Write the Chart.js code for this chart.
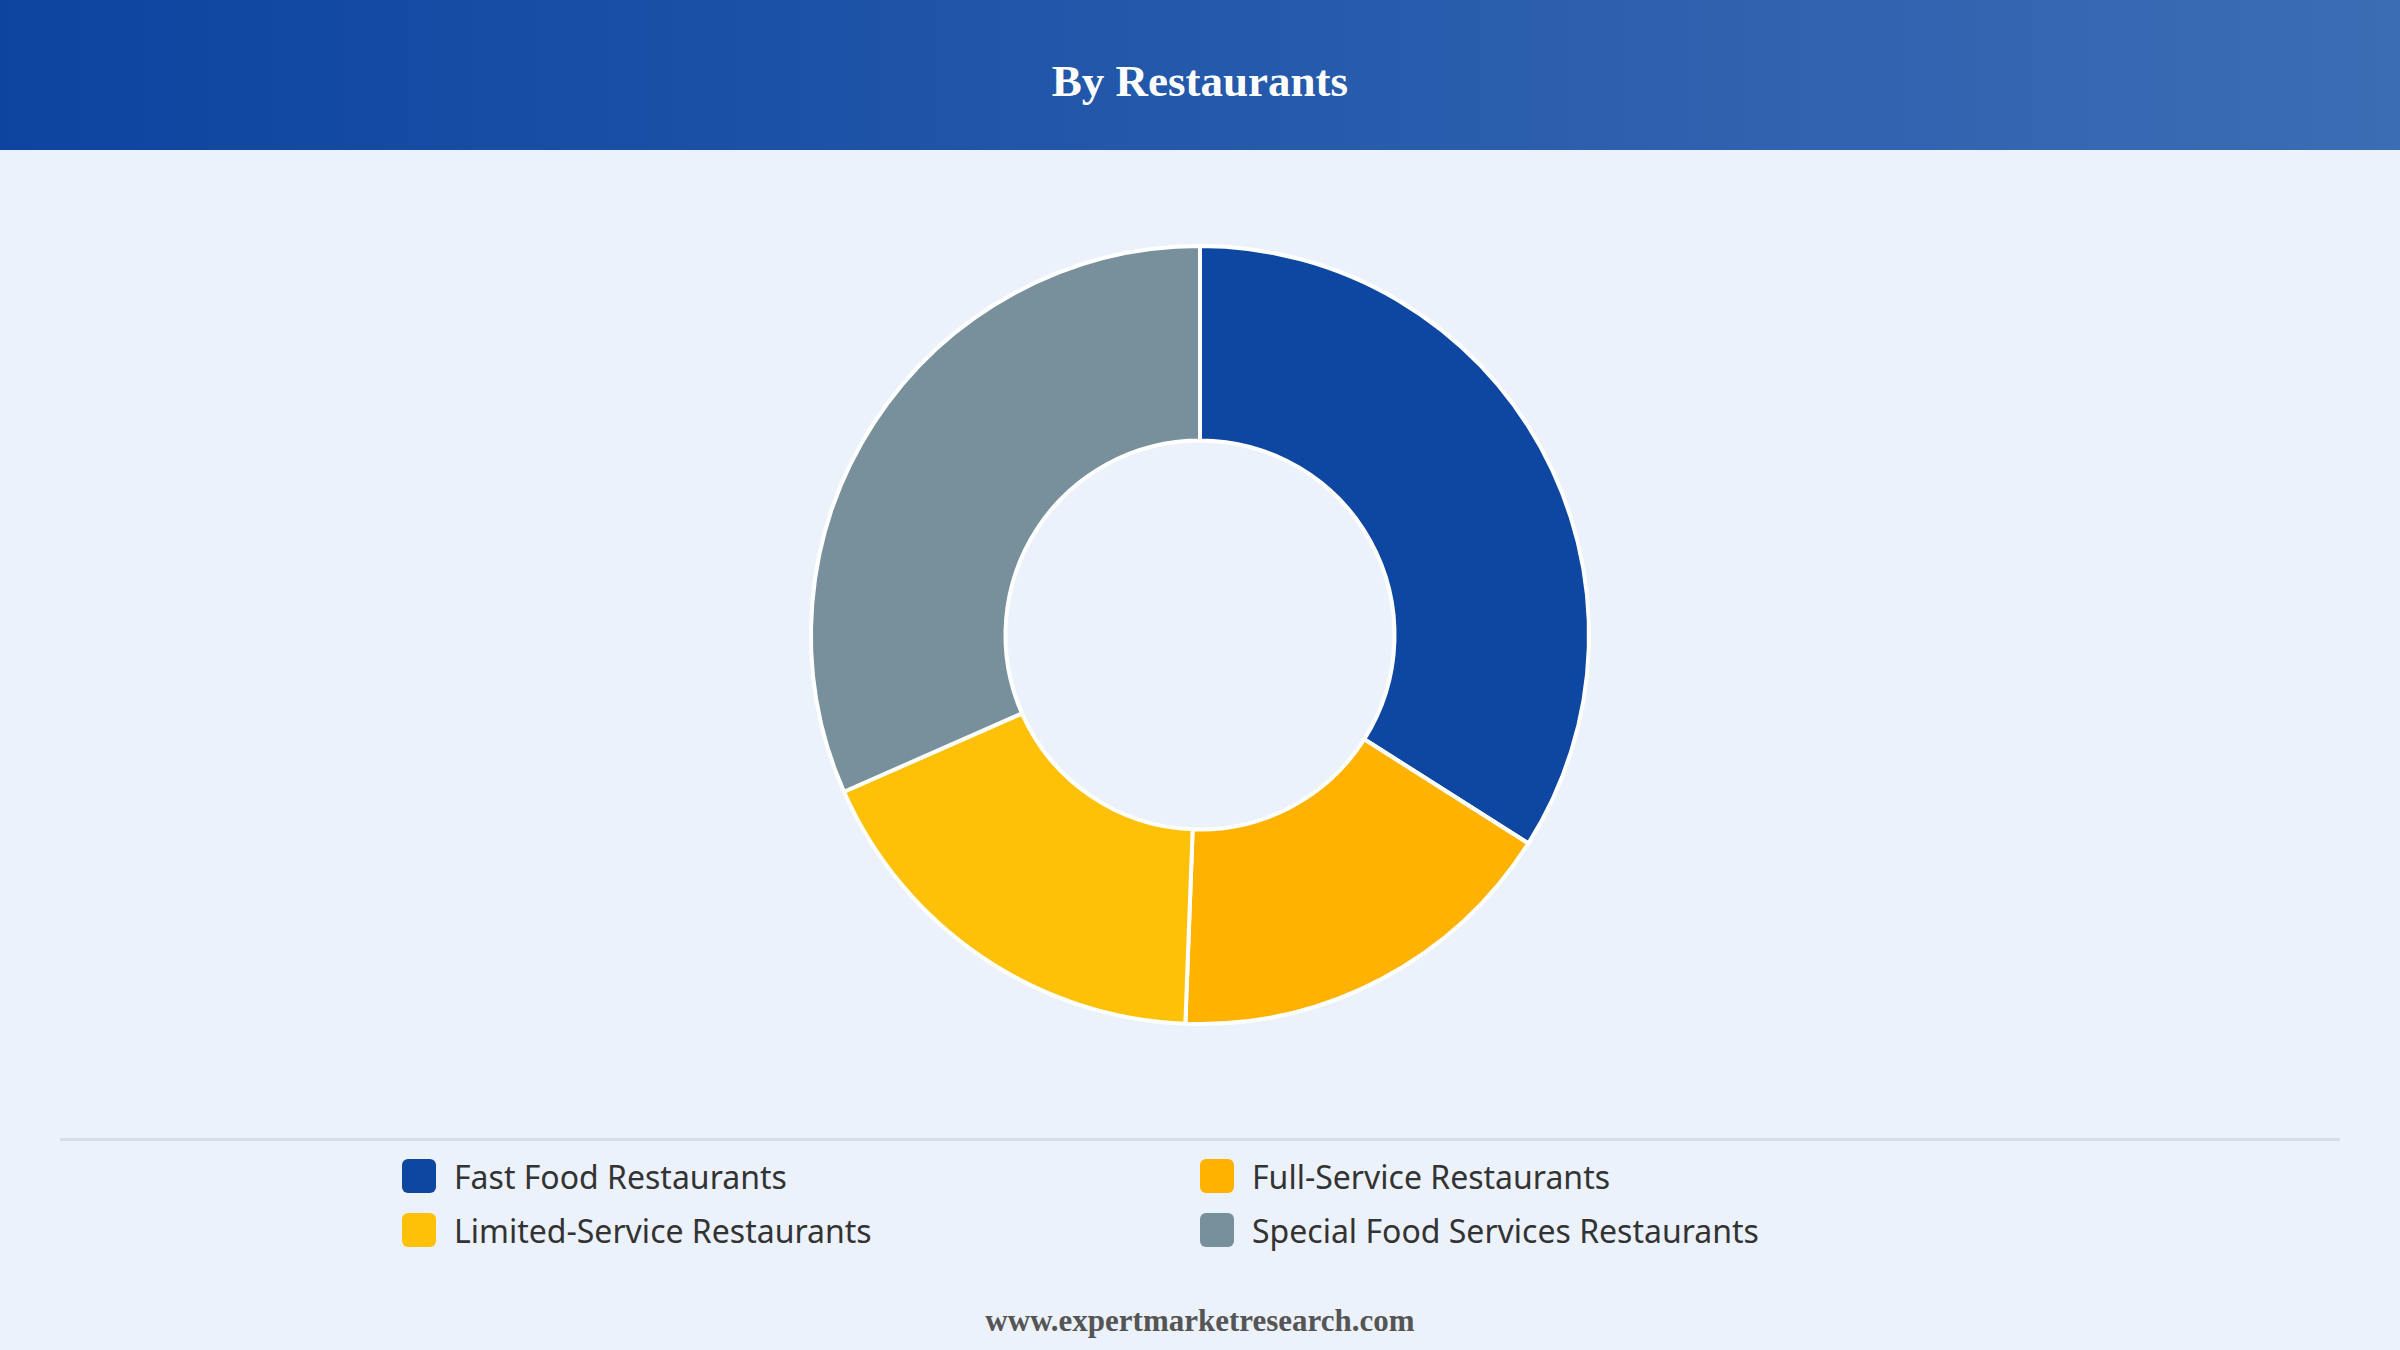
<!DOCTYPE html>
<html>
<head>
<meta charset="utf-8">
<script src="https://cdn.jsdelivr.net/npm/chart.js@4"></script>
<style>
  body { margin:0; width:2400px; height:1350px; background:#ebf2fb; overflow:hidden; font-family:"Noto Sans", sans-serif; position:relative; }
  #header { position:absolute; left:0; top:0; width:2400px; height:150px;
    background:linear-gradient(90deg,#0d44a0,#3b6db5); color:#fff; text-align:center;
    font:bold 45px "Liberation Serif", serif; line-height:162px; }
  #chartBox { position:absolute; left:700px; top:220px; width:1000px; height:830px; }
  #sep { position:absolute; left:60px; top:1138px; width:2280px; height:3px; background:#d6dde6; }
  #legend { position:absolute; left:402px; top:1158px; width:1600px; display:grid;
    grid-template-columns:798px 798px; row-gap:18px; }
  .item { display:flex; align-items:center; font-size:32px; color:#333; height:36px; }
  .sw { width:34px; height:34px; border-radius:6px; margin-right:18px; }
  #footer { position:absolute; left:0; width:2400px; top:1303px; text-align:center;
    font:bold 31px "Liberation Serif", serif; color:#555; }
</style>
</head>
<body>
<div id="header">By Restaurants</div>
<div id="chartBox"><canvas id="myChart"></canvas></div>
<div id="sep"></div>
<div id="legend"></div>
<div id="footer">www.expertmarketresearch.com</div>
<script>
// categorias y valores (%)
const labels = ["Fast Food Restaurants", "Full-Service Restaurants", "Limited-Service Restaurants", "Special Food Services Restaurants"];
const values = [34, 16.6, 17.8, 31.6];
const colors = ["#0d47a1", "#ffb300", "#ffc107", "#78909c"];

// leyenda en dos columnas
const legend = document.getElementById('legend');
labels.forEach(function (lab, i) {
    const d = document.createElement('div');
    d.className = 'item';
    d.innerHTML = '<span class="sw" style="background:' + colors[i] + '"></span>' + lab;
    legend.appendChild(d);
});

new Chart(document.getElementById('myChart'), {
    type: 'doughnut',
    data: {
        labels: labels,
        datasets: [{
            data: values,
            backgroundColor: colors,
            borderColor: '#ffffff',
            borderWidth: 4
        }]
    },
    options: {
        responsive: true,
        maintainAspectRatio: false,
        animation: false,
        cutout: '50%',
        layout: { padding: 24 },
        plugins: { legend: { display: false }, tooltip: { enabled: false } }
    }
});
</script>
</body>
</html>
